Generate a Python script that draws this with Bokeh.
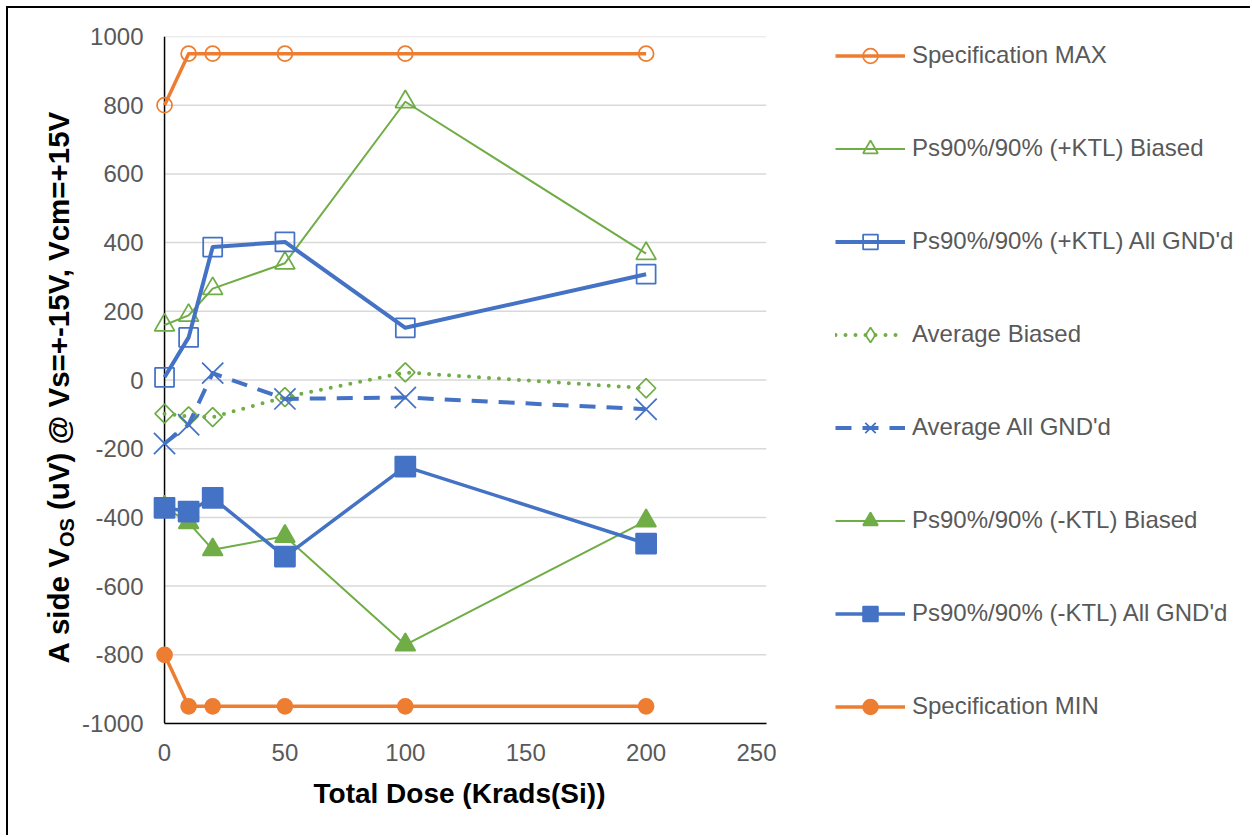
from math import pi
from bokeh.plotting import figure
from bokeh.layouts import row
from bokeh.models import Range1d, FixedTicker, Legend, LegendItem, Label
from bokeh.embed import file_html
from bokeh.resources import INLINE

# ---------------- data ----------------
dose = [0, 10, 20, 50, 100, 200]
spec_max = [800, 950, 950, 950, 950, 950]
pos_ktl_biased = [160, 188, 266, 340, 810, 368]
pos_ktl_gnd = [8, 124, 387, 402, 152, 308]
avg_biased = [-98, -106, -108, -50, 22, -24]
avg_gnd = [-185, -130, 20, -55, -51, -85]
neg_ktl_biased = [-370, -415, -494, -455, -771, -410]
neg_ktl_gnd = [-372, -383, -343, -514, -252, -476]
spec_min = [-800, -950, -950, -950, -950, -950]

series_names = [
    "Specification MAX",
    "Ps90%/90% (+KTL) Biased",
    "Ps90%/90% (+KTL) All GND'd",
    "Average Biased",
    "Average All GND'd",
    "Ps90%/90% (-KTL) Biased",
    "Ps90%/90% (-KTL) All GND'd",
    "Specification MIN",
]
series_values = [spec_max, pos_ktl_biased, pos_ktl_gnd, avg_biased,
                 avg_gnd, neg_ktl_biased, neg_ktl_gnd, spec_min]

x_ticks = [0, 50, 100, 150, 200, 250]
x_tick_labels = ["0", "50", "100", "150", "200", "250"]
y_ticks = [-1000, -800, -600, -400, -200, 0, 200, 400, 600, 800, 1000]
y_tick_labels = ["-1000", "-800", "-600", "-400", "-200", "0", "200", "400", "600", "800", "1000"]
x_title = "Total Dose (Krads(Si))"
y_title_parts = ["A side V", "OS", "(uV) @ Vs=+-15V, Vcm=+15V"]

# ---------------- styles ----------------
ORANGE = "#ED7D31"
GREEN = "#70AD47"
BLUE = "#4472C4"
FONT = "Liberation Sans"
TICK_COLOR = "#595959"

# (color, line width, marker, marker size, filled, dash, angle, legend marker)
styles = [
    (ORANGE, 3.5, "circle", 15, False, "solid", 0.0, "circle"),
    (GREEN, 2, "triangle", 20, False, "solid", 0.0, "triangle"),
    (BLUE, 4, "square", 19, False, "solid", 0.0, "square"),
    (GREEN, 4, "square", 13.5, False, "0 10", pi / 4, "diamond"),
    (BLUE, 4, "x", 30, False, "16 11", 0.0, "x"),
    (GREEN, 2, "triangle", 20, True, "solid", 0.0, "triangle"),
    (BLUE, 3.5, "square", 20, True, "solid", 0.0, "square"),
    (ORANGE, 3.5, "circle", 15, True, "solid", 0.0, "circle"),
]

H = 835
TITLE_W = 78
MAIN_W = 698
LEG_W = 1250 - TITLE_W - MAIN_W
TOP, FRAME_H = 36, 687
BOTTOM = H - TOP - FRAME_H


def add_series(fig, for_legend=False):
    pairs = []
    for ys, (color, lw, marker, msize, filled, dash, angle, lmarker) in zip(series_values, styles):
        ln = fig.line(dose, ys, line_color=color, line_width=lw, line_dash=dash,
                      line_join="round", line_cap="round" if dash.startswith("0") else "butt")
        sc = fig.scatter(dose, ys, marker=lmarker if for_legend else marker,
                         size=msize, angle=0.0 if for_legend else angle,
                         line_color=color, line_width=1.75,
                         fill_color=color if filled else None)
        pairs.append((ln, sc))
    return pairs


def blank_fig(width, x_range, y_range, shadow):
    f = figure(width=width, height=H, output_backend="svg", toolbar_location=None,
               x_range=x_range, y_range=y_range, x_axis_type=None, y_axis_type=None,
               min_border_left=0, min_border_right=0,
               min_border_top=TOP, min_border_bottom=BOTTOM,
               background_fill_color=None, border_fill_color=None)
    f.outline_line_color = None
    f.xgrid.visible = False
    f.ygrid.visible = False
    f.styles = {"box-shadow": shadow}
    return f


# ---------------- main chart ----------------
X0 = -5
p = figure(
    width=MAIN_W, height=H,
    output_backend="svg", toolbar_location=None,
    x_range=Range1d(X0, x_ticks[-1]), y_range=Range1d(y_ticks[0], y_ticks[-1]),
    min_border_left=74, min_border_right=10, min_border_top=TOP, min_border_bottom=BOTTOM,
    background_fill_color="white", border_fill_color=None,
)
p.styles = {"box-shadow": "inset 0 6px 0 0 white, inset 0 8px 0 0 black"}
p.outline_line_color = None
p.xgrid.visible = False
p.ygrid.visible = False

# gridlines (from the tick list) and the y axis line at x=0
p.segment(x0=[x_ticks[0]] * len(y_ticks), x1=[x_ticks[-1]] * len(y_ticks),
          y0=y_ticks, y1=y_ticks, line_color="#D9D9D9", line_width=1.5)
p.segment(x0=[x_ticks[0]], x1=[x_ticks[0]], y0=[y_ticks[0]], y1=[y_ticks[-1]],
          line_color="black", line_width=1.5)

xa = p.xaxis[0]
xa.ticker = FixedTicker(ticks=x_ticks)
xa.major_label_overrides = {t: l for t, l in zip(x_ticks, x_tick_labels)}
xa.bounds = (x_ticks[0], x_ticks[-1])
xa.axis_line_color = "black"
xa.axis_line_width = 1.5
xa.major_tick_line_color = None
xa.minor_tick_line_color = None
xa.major_tick_out = 0
xa.major_tick_in = 0
xa.major_label_standoff = 20
xa.major_label_text_font = FONT
xa.major_label_text_font_size = "24px"
xa.major_label_text_color = TICK_COLOR
xa.axis_label = x_title
xa.axis_label_text_font = FONT
xa.axis_label_text_font_size = "28px"
xa.axis_label_text_font_style = "bold"
xa.axis_label_text_color = "black"
xa.axis_label_standoff = 14

ya = p.yaxis[0]
ya.ticker = FixedTicker(ticks=y_ticks)
ya.major_label_overrides = {t: l for t, l in zip(y_ticks, y_tick_labels)}
ya.axis_line_color = None
ya.major_tick_line_color = None
ya.minor_tick_line_color = None
ya.major_tick_out = 0
ya.major_tick_in = 0
ya.major_label_standoff = 9
ya.major_label_text_font = FONT
ya.major_label_text_font_size = "24px"
ya.major_label_text_color = TICK_COLOR

add_series(p)

# ---------------- y axis title (left strip, with subscript) ----------------
tf = blank_fig(TITLE_W, Range1d(0, TITLE_W), Range1d(y_ticks[0], y_ticks[-1]),
               "inset 6px 6px 0 0 white, inset 8px 8px 0 0 black")
Y_PER_PX = (y_ticks[-1] - y_ticks[0]) / FRAME_H
Y_MID_PX = TOP + FRAME_H / 2


def dy(py):
    return (Y_MID_PX - py) * Y_PER_PX


# (text, centre-line x in px, start y in px, font size)
title_specs = [
    (y_title_parts[0], 58, 663, "29.5px"),
    (y_title_parts[1], 66, 546.6, "20px"),
    (y_title_parts[2], 58, 509.5, "29.5px"),
]
for txt, px, py, fs in title_specs:
    tf.add_layout(Label(x=px, y=dy(py), text=txt, angle=pi / 2,
                        text_align="left", text_baseline="middle",
                        text_font=FONT, text_font_style="bold",
                        text_font_size=fs, text_color="black"))

# ---------------- legend (right strip) ----------------
# same series, drawn outside this strip's visible range so only the legend shows
lf = blank_fig(LEG_W, Range1d(-2000, -1000), Range1d(y_ticks[0], y_ticks[-1]),
               "inset 0 6px 0 0 white, inset 0 8px 0 0 black")
pairs = add_series(lf, for_legend=True)
items = [LegendItem(label=n, renderers=[ln, sc]) for n, (ln, sc) in zip(series_names, pairs)]
legend = Legend(
    items=items, location=(835 - (TITLE_W + MAIN_W), (TOP + FRAME_H) - 724.5),
    glyph_width=70, glyph_height=37, label_height=37, spacing=56,
    label_standoff=7, padding=0, margin=0,
    border_line_color=None, background_fill_alpha=0,
    label_text_font=FONT, label_text_font_size="24px", label_text_color=TICK_COLOR,
)
lf.add_layout(legend)

layout = row(tf, p, lf)

open("out.html", "w").write(file_html(layout, INLINE))
